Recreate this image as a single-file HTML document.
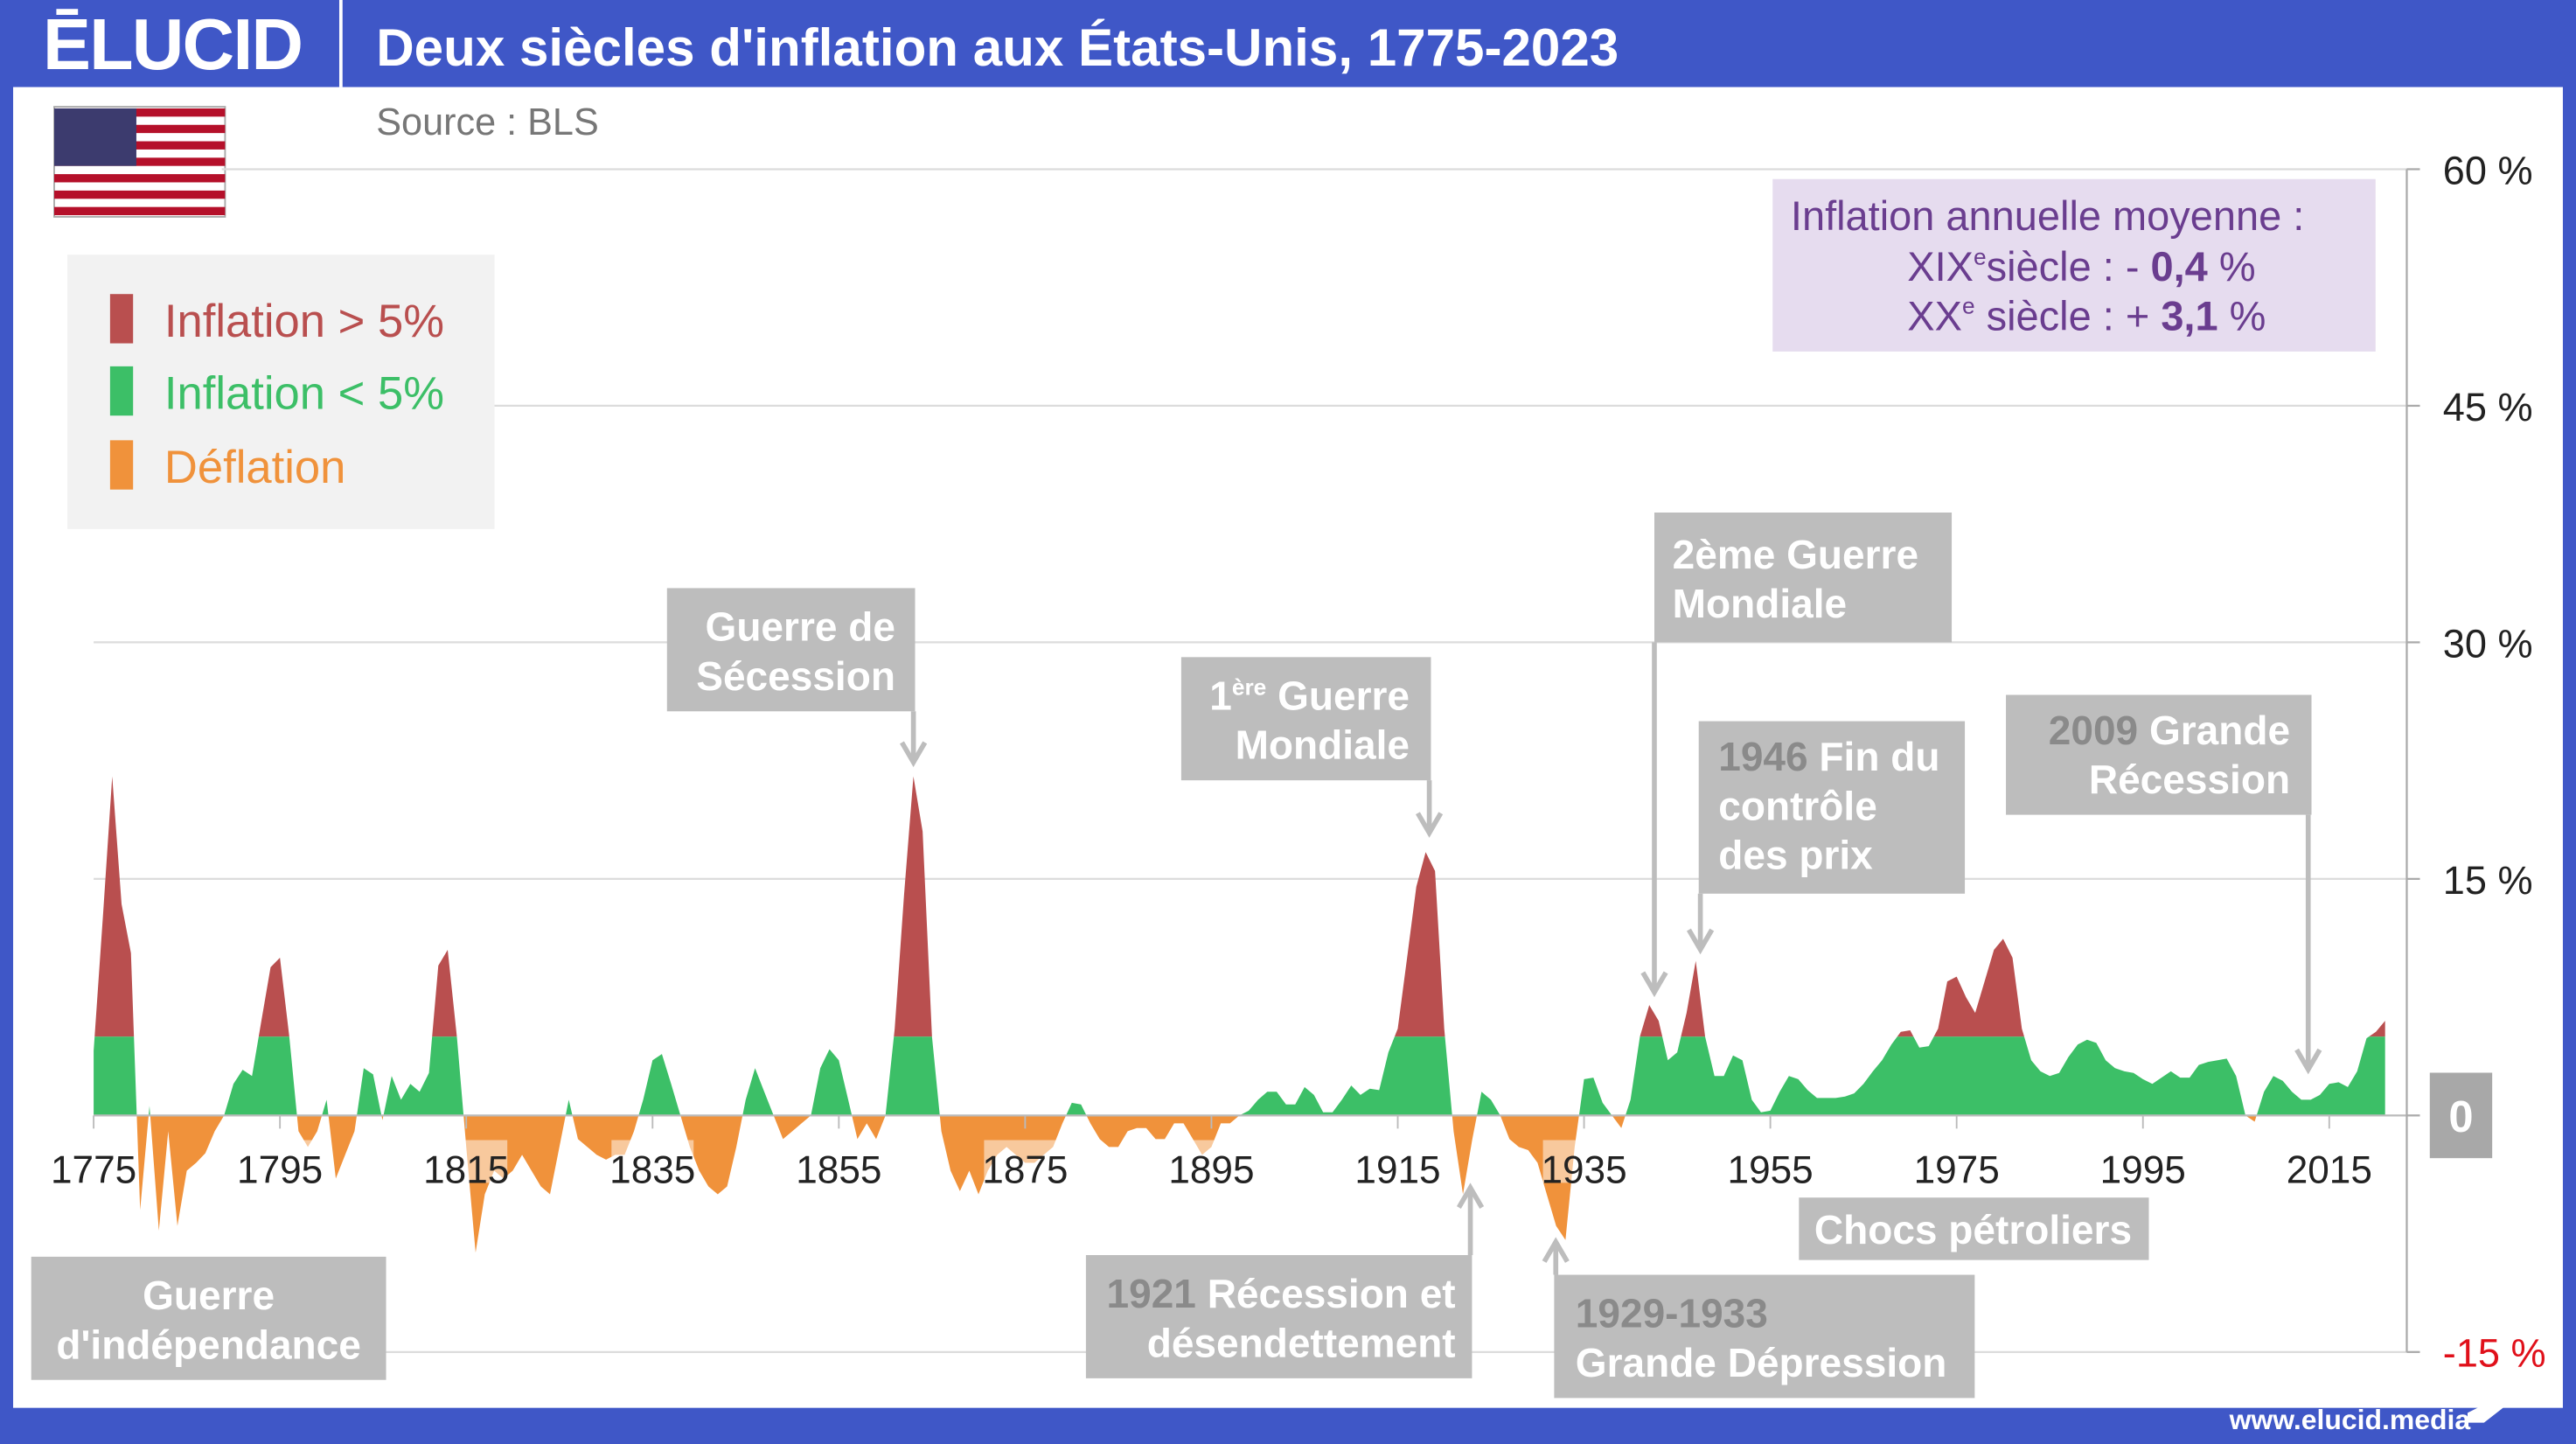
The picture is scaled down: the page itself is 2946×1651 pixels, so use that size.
<!DOCTYPE html>
<html><head><meta charset="utf-8">
<style>
html,body{margin:0;padding:0;background:#fff;}
svg{display:block;}
text{font-family:"Liberation Sans",sans-serif;}
</style></head>
<body>
<svg id="s" width="2946" height="1651" viewBox="0 0 1568 879" preserveAspectRatio="none" xmlns="http://www.w3.org/2000/svg">
<rect x="0" y="0" width="1568" height="879" fill="#3f57c7"/>
<rect x="8" y="53" width="1552" height="804" fill="#fff"/>
<line x1="207.5" y1="0" x2="207.5" y2="53" stroke="#fff" stroke-width="2"/>
<text x="26" y="42" fill="#fff" font-size="44" font-weight="bold" letter-spacing="-1">ĒLUCID</text>
<text x="229" y="40" fill="#fff" font-size="32" font-weight="bold">Deux siècles d'inflation aux États-Unis, 1775-2023</text>
<text x="229" y="82" fill="#777" font-size="23">Source : BLS</text>
<g>
<rect x="33" y="65" width="104" height="67" fill="#fff" stroke="#aaa" stroke-width="1"/>
<g fill="#b5102a">
<rect x="33" y="66" width="104" height="5"/><rect x="33" y="76" width="104" height="5"/><rect x="33" y="86" width="104" height="5"/><rect x="33" y="96" width="104" height="5"/><rect x="33" y="106" width="104" height="5"/><rect x="33" y="116" width="104" height="5"/><rect x="33" y="126" width="104" height="5"/>
</g>
<rect x="33" y="66" width="50" height="35" fill="#3c3b6e"/>
</g>
<g stroke="#dcdcdc" stroke-width="1.2">
<line x1="135" y1="103" x2="1465" y2="103"/>
<line x1="300" y1="247" x2="1465" y2="247"/>
<line x1="57" y1="391" x2="1465" y2="391"/>
<line x1="57" y1="535" x2="1465" y2="535"/>
<line x1="57" y1="823" x2="1465" y2="823"/>
</g>
<rect x="41" y="155" width="260" height="167" fill="#f2f2f2"/>
<rect x="67" y="179" width="14" height="30" fill="#b94f4f"/>
<rect x="67" y="223" width="14" height="30" fill="#3cbf67"/>
<rect x="67" y="268" width="14" height="30" fill="#f0923b"/>
<text x="100" y="205" fill="#b94f4f" font-size="28">Inflation &gt; 5%</text>
<text x="100" y="249" fill="#3cbf67" font-size="28">Inflation &lt; 5%</text>
<text x="100" y="294" fill="#f0923b" font-size="28">Déflation</text>
<rect x="1079" y="109" width="367" height="105" fill="#e6dcef"/>
<g fill="#6a3d8f" font-size="25">
<text x="1090" y="140">Inflation annuelle moyenne :</text>
<text x="1161" y="171">XIX<tspan font-size="14" dy="-10">e</tspan><tspan dy="10">siècle : -  </tspan><tspan font-weight="bold">0,4</tspan>  %</text>
<text x="1161" y="201">XX<tspan font-size="14" dy="-10">e</tspan><tspan dy="10"> siècle : + </tspan><tspan font-weight="bold">3,1</tspan>  %</text>
</g>
<defs>
<clipPath id="cr"><rect x="0" y="0" width="1568" height="631"/></clipPath>
<clipPath id="cg"><rect x="0" y="631" width="1568" height="48"/></clipPath>
<clipPath id="co"><rect x="0" y="679" width="1568" height="200"/></clipPath>
</defs>
<g id="areas"></g>
<line x1="57" y1="679" x2="1465" y2="679" stroke="#bbb" stroke-width="1.2"/>
<g id="xl" font-size="23.5" fill="#222" text-anchor="middle"></g>
<line x1="1465" y1="103" x2="1465" y2="823" stroke="#aaa" stroke-width="1.2"/>
<g stroke="#aaa" stroke-width="1.2">
<line x1="1465" y1="103" x2="1473" y2="103"/><line x1="1465" y1="247" x2="1473" y2="247"/><line x1="1465" y1="391" x2="1473" y2="391"/><line x1="1465" y1="535" x2="1473" y2="535"/><line x1="1465" y1="679" x2="1473" y2="679"/><line x1="1465" y1="823" x2="1473" y2="823"/>
</g>
<g font-size="24" fill="#222">
<text x="1487" y="112">60 %</text>
<text x="1487" y="256">45 %</text>
<text x="1487" y="400">30 %</text>
<text x="1487" y="544">15 %</text>
<text x="1487" y="832" fill="#e0101a">-15 %</text>
</g>
<rect x="1479" y="653" width="38" height="52" fill="#a8a8a8"/>
<text x="1498" y="689" fill="#fff" font-size="27" font-weight="bold" text-anchor="middle">0</text>
<g fill="#bdbdbd">
<rect x="406" y="358" width="151" height="75"/>
<rect x="719" y="400" width="152" height="75"/>
<rect x="1007" y="312" width="181" height="79"/>
<rect x="1034" y="439" width="162" height="105"/>
<rect x="1221" y="423" width="186" height="73"/>
<rect x="1095" y="729" width="213" height="38"/>
<rect x="661" y="764" width="235" height="75"/>
<rect x="946" y="776" width="256" height="75"/>
<rect x="19" y="765" width="216" height="75"/>
</g>
<g stroke="#bdbdbd" stroke-width="3" fill="none">
<line x1="556" y1="433" x2="556" y2="463"/><polyline points="549,452 556,464 563,452"/>
<line x1="870" y1="475" x2="870" y2="506"/><polyline points="863,495 870,507 877,495"/>
<line x1="1007" y1="391" x2="1007" y2="603"/><polyline points="1000,592 1007,604 1014,592"/>
<line x1="1035" y1="544" x2="1035" y2="577"/><polyline points="1028,566 1035,578 1042,566"/>
<line x1="1405" y1="496" x2="1405" y2="650"/><polyline points="1398,639 1405,651 1412,639"/>
<line x1="895" y1="764" x2="895" y2="724"/><polyline points="888,735 895,723 902,735"/>
<line x1="947" y1="776" x2="947" y2="757"/><polyline points="940,768 947,756 954,768"/>
</g>
<g fill="#fff" font-size="24.5" font-weight="bold">
<text x="545" y="390" text-anchor="end">Guerre de</text>
<text x="545" y="420" text-anchor="end">Sécession</text>
<text x="858" y="432" text-anchor="end">1<tspan font-size="14" dy="-9">ère</tspan><tspan dy="9"> Guerre</tspan></text>
<text x="858" y="462" text-anchor="end">Mondiale</text>
<text x="1018" y="346">2ème Guerre</text>
<text x="1018" y="376">Mondiale</text>
<text x="1046" y="469"><tspan fill="#8a8a8a">1946</tspan> Fin du</text>
<text x="1046" y="499">contrôle</text>
<text x="1046" y="529">des prix</text>
<text x="1394" y="453" text-anchor="end"><tspan fill="#8a8a8a">2009</tspan> Grande</text>
<text x="1394" y="483" text-anchor="end">Récession</text>
<text x="1201" y="757" text-anchor="middle">Chocs pétroliers</text>
<text x="886" y="796" text-anchor="end"><tspan fill="#8a8a8a">1921</tspan> Récession et</text>
<text x="886" y="826" text-anchor="end">désendettement</text>
<text x="959" y="808" fill="#8a8a8a">1929-1933</text>
<text x="959" y="838">Grande Dépression</text>
<text x="127" y="797" text-anchor="middle">Guerre</text>
<text x="127" y="827" text-anchor="middle">d'indépendance</text>
</g>
<text x="1357" y="870" fill="#fff" font-size="17" font-weight="bold">www.elucid.media</text>
<polygon points="1502,860 1530,846 1530,852 1512,866 1502,866" fill="#fff"/>
</svg>
<script>
var v=[4.1,12.7,21.5,13.4,10.3,-6,0.6,-7.3,-1,-7,-3.5,-3,-2.4,-1,0,2,2.9,2.5,6,9.4,10,5,-1,-2,-1,1,-4,-2.5,-1,3,2.6,-0.3,2.5,1,2,1.5,2.7,9.5,10.5,5,-2,-8.7,-5,-3.5,-4,-3.5,-2.5,-3.5,-4.5,-5,-2,1,-1.5,-2,-2.5,-2.8,-2.5,-2.5,-1,1,3.5,3.9,2,0,-2,-3.5,-4.5,-5,-4.5,-2,1,3,1.5,0,-1.5,-1,-0.5,0,3,4.2,3.5,1,-1.5,-0.5,-1.5,0,5.5,14,21.5,18,5,-1,-3.5,-4.8,-3.5,-5,-3.5,-2.5,-2,-2.5,-3,-3,-2.5,-2,-0.5,0.8,0.7,-0.5,-1.5,-2,-2,-1,-0.8,-0.8,-1.5,-1.5,-0.5,-0.5,-1.5,-2.5,-2,-0.5,-0.5,0,0.3,1,1.5,1.5,0.7,0.7,1.8,1.3,0.2,0.2,1,1.9,1.3,1.7,1.6,4,5.5,10,14.5,16.7,15.5,5.5,-1,-5,-1.5,1.5,1,0,-1.5,-2,-2.2,-3,-5,-7,-7.9,-2,2.3,2.4,0.8,0,-0.8,1,5,7,6,3.5,4,6.5,9.8,5,2.5,2.5,3.8,3.5,1,0.2,0.3,1.5,2.5,2.3,1.6,1.1,1.1,1.1,1.2,1.4,2,2.8,3.5,4.5,5.3,5.4,4.3,4.4,5.5,8.5,8.8,7.5,6.5,8.5,10.5,11.2,10,5.5,3.5,2.8,2.5,2.7,3.7,4.5,4.8,4.6,3.5,3,2.8,2.7,2.3,2,2.4,2.8,2.4,2.4,3.2,3.4,3.5,3.6,2.5,0,-0.4,1.5,2.5,2.2,1.5,1,1,1.3,2,2.1,1.8,2.8,4.9,5.3,6.0];
var NS="http://www.w3.org/2000/svg";
function X(i){return 57+i*5.67;}function Y(p){return 679-p*9.6;}
var pts=X(0).toFixed(1)+",679 ";
for(var i=0;i<v.length;i++)pts+=X(i).toFixed(1)+","+Y(v[i]).toFixed(1)+" ";
pts+=X(v.length-1).toFixed(1)+",679";
var g=document.getElementById("areas");
[["cr","#b94f4f"],["cg","#3cbf67"],["co","#f0923b"]].forEach(function(c){
 var p=document.createElementNS(NS,"polygon");p.setAttribute("points",pts);p.setAttribute("fill",c[1]);p.setAttribute("clip-path","url(#"+c[0]+")");g.appendChild(p);});
var xl=document.getElementById("xl");
for(var y=1775;y<=2015;y+=20){var x=X(y-1775);
 var r=document.createElementNS(NS,"rect");r.setAttribute("x",x-25);r.setAttribute("y",694);r.setAttribute("width",50);r.setAttribute("height",26);r.setAttribute("fill","#fff");r.setAttribute("opacity","0.5");xl.appendChild(r);
 var l=document.createElementNS(NS,"line");l.setAttribute("x1",x);l.setAttribute("x2",x);l.setAttribute("y1",679);l.setAttribute("y2",687);l.setAttribute("stroke","#bbb");xl.appendChild(l);
 var t=document.createElementNS(NS,"text");t.setAttribute("x",x);t.setAttribute("y",720);t.textContent=y;xl.appendChild(t);}
</script>
</body></html>
